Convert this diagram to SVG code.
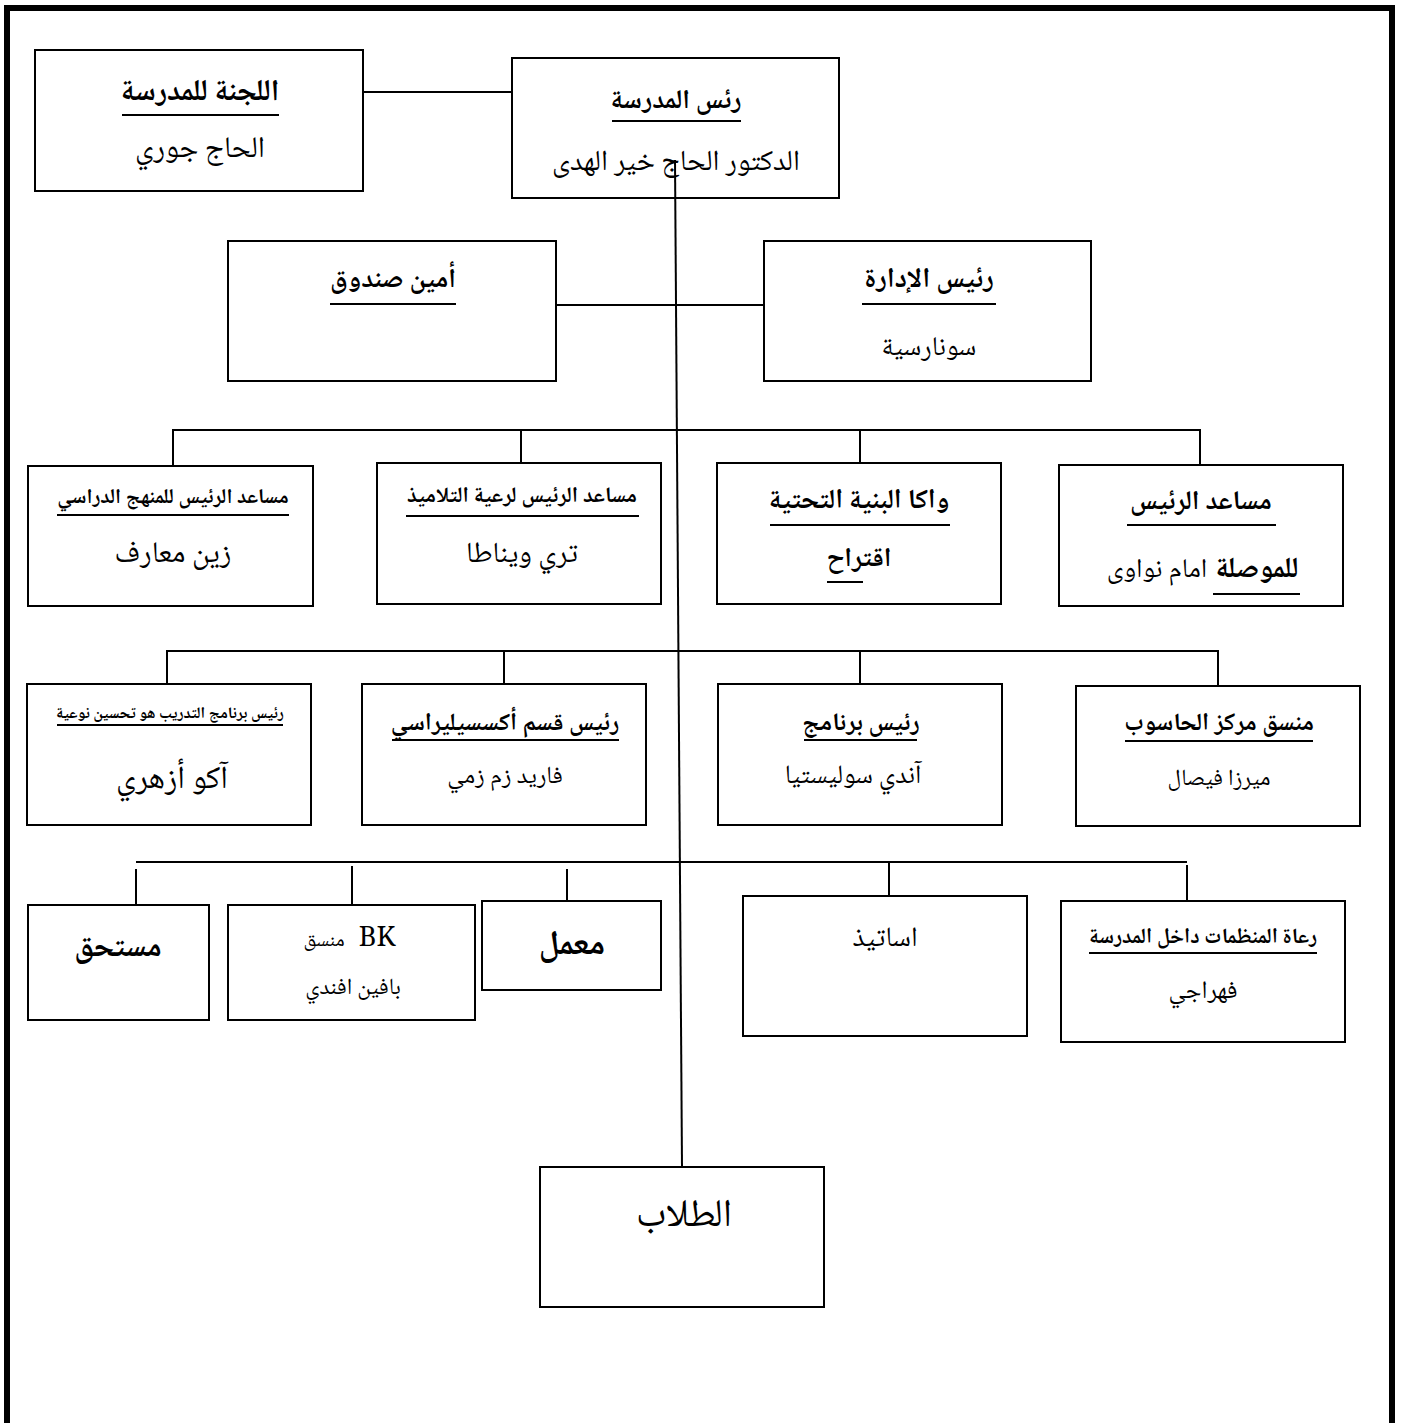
<svg xmlns="http://www.w3.org/2000/svg" width="1403" height="1423" viewBox="0 0 1403 1423">
<style>
.box{fill:#fff;stroke:#000;stroke-width:2}
.ln{stroke:#000;stroke-width:2;fill:none}
.ul{stroke:#000;stroke-width:2.2}
text{font-family:"Noto Naskh Arabic","Liberation Serif","DejaVu Serif","DejaVu Sans",serif;fill:#000;text-anchor:middle}
.b{font-weight:bold}
</style>
<rect width="1403" height="1423" fill="#fff"/>
<path d="M7,1423 V8 H1392 V1423" fill="none" stroke="#000" stroke-width="6"/>

<g id="committee">
<rect class="box" x="35" y="50" width="328" height="141"/>
<text class="b" x="200" y="100" font-size="30">اللجنة للمدرسة</text>
<line class="ul" x1="122" y1="115" x2="279" y2="115"/>
<text x="200" y="157" font-size="30">الحاج جوري</text>
</g>

<g id="head">
<rect class="box" x="512" y="58" width="327" height="140"/>
<text class="b" x="676" y="108" font-size="27">رئس المدرسة</text>
<line class="ul" x1="612" y1="121" x2="741" y2="121"/>
<text x="676" y="170" font-size="29">الدكتور الحاج خير الهدى</text>
</g>

<g id="treasurer">
<rect class="box" x="228" y="241" width="328" height="140"/>
<text class="b" x="393" y="287" font-size="27">أمين صندوق</text>
<line class="ul" x1="330" y1="304" x2="456" y2="304"/>
</g>

<g id="admin">
<rect class="box" x="764" y="241" width="327" height="140"/>
<text class="b" x="929" y="287" font-size="28">رئيس الإدارة</text>
<line class="ul" x1="862" y1="304" x2="996" y2="304"/>
<text x="929" y="355" font-size="27">سونارسية</text>
</g>

<g id="asst-curriculum">
<rect class="box" x="28" y="466" width="285" height="140"/>
<text class="b" x="173" y="503" font-size="21">مساعد الرئيس للمنهج الدراسي</text>
<line class="ul" x1="57" y1="515" x2="289" y2="515"/>
<text x="173" y="562" font-size="30">زين معارف</text>
</g>

<g id="asst-students">
<rect class="box" x="377" y="463" width="284" height="141"/>
<text class="b" x="522" y="502" font-size="22">مساعد الرئيس لرعية التلاميذ</text>
<line class="ul" x1="406" y1="516" x2="639" y2="516"/>
<text x="522" y="562" font-size="29">تري ويناطا</text>
</g>

<g id="infrastructure">
<rect class="box" x="717" y="463" width="284" height="141"/>
<text class="b" x="859" y="508" font-size="27.5">واكا البنية التحتية</text>
<line class="ul" x1="770" y1="525" x2="950" y2="525"/>
<text class="b" x="859" y="566" font-size="27">اقتراح</text>
<line class="ul" x1="827" y1="582" x2="863" y2="582"/>
</g>

<g id="asst-liaison">
<rect class="box" x="1059" y="465" width="284" height="141"/>
<text class="b" x="1201" y="509" font-size="27">مساعد الرئيس</text>
<line class="ul" x1="1127" y1="525" x2="1276" y2="525"/>
<text class="b" x="1257" y="577" font-size="29">للموصلة</text>
<text x="1157" y="577" font-size="27">امام نواوى</text>
<line class="ul" x1="1213" y1="594" x2="1300" y2="594"/>
</g>

<g id="training">
<rect class="box" x="27" y="684" width="284" height="141"/>
<text class="b" x="170" y="718" font-size="16">رئيس برنامج التدريب هو تحسين نوعية</text>
<line class="ul" x1="57" y1="725" x2="283" y2="725"/>
<text x="172" y="788" font-size="32">آكو أزهري</text>
</g>

<g id="acceleration">
<rect class="box" x="362" y="684" width="284" height="141"/>
<text class="b" x="505" y="730" font-size="24.5">رئيس قسم أكسسيليراسي</text>
<line class="ul" x1="392" y1="740" x2="619" y2="740"/>
<text x="505" y="783" font-size="24.5">فاريد زم زمي</text>
</g>

<g id="program">
<rect class="box" x="718" y="684" width="284" height="141"/>
<text class="b" x="861" y="730" font-size="25">رئيس برنامج</text>
<line class="ul" x1="804" y1="740" x2="917" y2="740"/>
<text x="853" y="783" font-size="26.5">آندي سوليستيا</text>
</g>

<g id="computer-center">
<rect class="box" x="1076" y="686" width="284" height="140"/>
<text class="b" x="1219" y="730" font-size="24.7">منسق مركز الحاسوب</text>
<line class="ul" x1="1125" y1="741" x2="1313" y2="741"/>
<text x="1219" y="785" font-size="23">ميرزا فيصال</text>
</g>

<g id="mustahiq">
<rect class="box" x="28" y="905" width="181" height="115"/>
<text class="b" x="118" y="956" font-size="31">مستحق</text>
</g>

<g id="bk">
<rect class="box" x="228" y="905" width="247" height="115"/>
<text x="377" y="946" font-size="27">BK</text>
<text x="324" y="946" font-size="20">منسق</text>
<text x="353" y="994" font-size="23">بافين افندي</text>
</g>

<g id="lab">
<rect class="box" x="482" y="901" width="179" height="89"/>
<text class="b" x="572" y="954" font-size="34">معمل</text>
</g>

<g id="teachers">
<rect class="box" x="743" y="896" width="284" height="140"/>
<text x="885" y="946" font-size="28">اساتيذ</text>
</g>

<g id="sponsors">
<rect class="box" x="1061" y="901" width="284" height="141"/>
<text class="b" x="1203" y="943" font-size="21.5">رعاة المنظمات داخل المدرسة</text>
<line class="ul" x1="1089" y1="953" x2="1317" y2="953"/>
<text x="1203" y="998" font-size="25">فهراجي</text>
</g>

<g id="students">
<rect class="box" x="540" y="1167" width="284" height="140"/>
<text x="684" y="1226" font-size="39">الطلاب</text>
</g>

<g id="connectors">
<line class="ln" x1="363" y1="92" x2="512" y2="92"/>
<line class="ln" x1="556" y1="305" x2="764" y2="305"/>
<line class="ln" x1="675" y1="160" x2="682" y2="1167"/>
<polyline class="ln" points="173,466 173,430 1200,430 1200,465"/>
<line class="ln" x1="521" y1="430" x2="521" y2="463"/>
<line class="ln" x1="860" y1="430" x2="860" y2="463"/>
<polyline class="ln" points="167,684 167,651 1218,651 1218,686"/>
<line class="ln" x1="504" y1="651" x2="504" y2="684"/>
<line class="ln" x1="860" y1="651" x2="860" y2="684"/>
<line class="ln" x1="136" y1="862" x2="1187" y2="862"/>
<line class="ln" x1="136" y1="869" x2="136" y2="905"/>
<line class="ln" x1="352" y1="866" x2="352" y2="905"/>
<line class="ln" x1="567" y1="869" x2="567" y2="901"/>
<line class="ln" x1="889" y1="862" x2="889" y2="896"/>
<line class="ln" x1="1187" y1="865" x2="1187" y2="901"/>
</g>
</svg>
